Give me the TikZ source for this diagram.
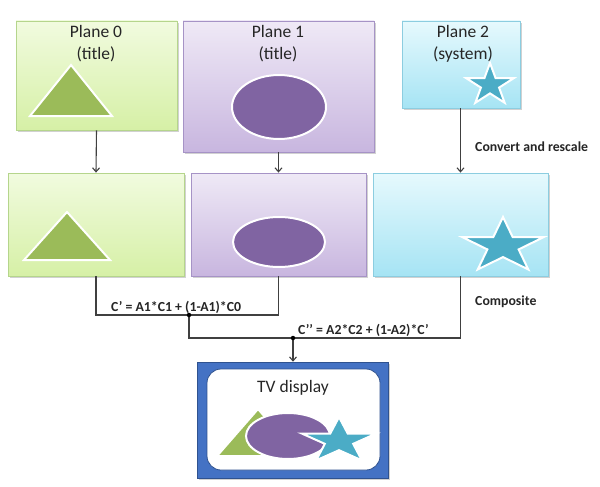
\documentclass[tikz,border=0pt]{standalone}
\usepackage{fontspec}
\setmainfont{Carlito}
\usetikzlibrary{arrows.meta}
\definecolor{gtop}{HTML}{F1FBDF}
\definecolor{gbot}{HTML}{D6F0A6}
\definecolor{gline}{HTML}{B5D58C}
\definecolor{gfill}{HTML}{9BBB59}
\definecolor{ptop}{HTML}{EFE9F6}
\definecolor{pbot}{HTML}{C8B6DF}
\definecolor{pline}{HTML}{A693C6}
\definecolor{pfill}{HTML}{8064A2}
\definecolor{ctop}{HTML}{E6F9FD}
\definecolor{cbot}{HTML}{A6E4F4}
\definecolor{cline}{HTML}{8CCDE0}
\definecolor{cfill}{HTML}{4BACC6}
\definecolor{tvblue}{HTML}{4472C4}
\definecolor{tvline}{HTML}{2F528F}
\definecolor{conn}{HTML}{404040}
\tikzset{
  planebox/.style={rectangle, draw=#1line, line width=0.8pt, top color=#1top, bottom color=#1bot, inner sep=0pt},
  shadowbox/.style={fill=black, opacity=0.18},
  title/.style={font=\fontsize{17.5}{22}\selectfont, text=black!85, inner sep=0pt, align=center},
  formula/.style={font=\bfseries\fontsize{13.8}{16}\selectfont, text=black!85, inner sep=0pt},
  shapeline/.style={draw=white, line width=2pt, line join=miter},
  connector/.style={draw=conn, line width=1.1pt},
  arr/.style={connector, -{Straight Barb[length=4pt,width=7pt]}},
  junction/.style={circle, fill=black, inner sep=0pt, minimum size=4.5pt},
}
\newcommand{\officestar}[5]{% style, cx, cy, rx, ry
  \path[#1] plot[samples at={0,...,9}] ({#2+#4*(0.691+0.309*cos(180*\x))*cos(270+36*\x)},{#3+#5*(0.691+0.309*cos(180*\x))*sin(270+36*\x)}) -- cycle;}
\begin{document}
\begin{tikzpicture}[x=1pt,y=-1pt]
\fill[white] (0,0) rectangle (600,487);
\useasboundingbox (0,0) rectangle (600,487);
% shadows
\fill[shadowbox] (18,23) rectangle (179,132);
\fill[shadowbox] (185,23) rectangle (376,154);
\fill[shadowbox] (404,23) rectangle (522,110);
\fill[shadowbox] (10,175) rectangle (186,278);
\fill[shadowbox] (193,175) rectangle (368,278);
\fill[shadowbox] (375,175) rectangle (550,278);
% top row boxes
\node[planebox=g, minimum width=161pt, minimum height=109pt] (p0) at (96.5,75.5) {};
\node[planebox=p, minimum width=191pt, minimum height=131pt] (p1) at (278.5,86.5) {};
\node[planebox=c, minimum width=118pt, minimum height=87pt] (p2) at (461,64.5) {};
\node[title] (p0t) at (96,44) {Plane 0\\(title)};
\node[title] (p1t) at (278,44) {Plane 1\\(title)};
\node[title] (p2t) at (463,44) {Plane 2\\(system)};
\path[shapeline, fill=gfill] (71,65) -- (112,116) -- (30,116) -- cycle;
\path[shapeline, fill=pfill] (279,107) ellipse [x radius=47, y radius=32];
\officestar{shapeline, fill=cfill}{490}{85}{25}{22}
% second row boxes
\node[planebox=g, minimum width=176pt, minimum height=103pt] (q0) at (96,224.5) {};
\node[planebox=p, minimum width=175pt, minimum height=103pt] (q1) at (278.5,224.5) {};
\node[planebox=c, minimum width=175pt, minimum height=103pt] (q2) at (460.5,224.5) {};
\path[shapeline, fill=gfill] (67,212) -- (110,260) -- (24,260) -- cycle;
\path[shapeline, fill=pfill] (279,242) ellipse [x radius=46, y radius=25];
\officestar{shapeline, fill=cfill}{503}{246}{43}{29}
% TV display
\fill[shadowbox] (199,364) rectangle (390,480);
\node[rectangle, draw=tvline, line width=0.6pt, fill=tvblue, minimum width=191pt, minimum height=116pt, inner sep=0pt] (tv) at (292.5,420) {};
\node[rectangle, rounded corners=14pt, draw=tvline, line width=0.8pt, fill=white, minimum width=173pt, minimum height=101pt, inner sep=0pt] (tvin) at (293.5,419.5) {};
\node[title] (tvt) at (293,388) {TV display};
\path[shapeline, fill=gfill] (258,409) -- (299,456) -- (217,456) -- cycle;
\path[shapeline, fill=pfill] (288,436) ellipse [x radius=42, y radius=23];
\officestar{shapeline, fill=cfill}{339}{441}{39}{24}
% connectors
\draw[arr] (p0.south) -- (q0.north);
\draw[arr] (p1.south) -- (q1.north);
\draw[arr] (p2.south -| q2.north) -- (q2.north);
\coordinate (j1) at (189,315);
\coordinate (j2) at (293,338);
\draw[connector] (q0.south) -- (q0.south |- j1) -- (q1.south |- j1) -- (q1.south);
\draw[connector] (j1) -- (j1 |- j2) -- (q2.south |- j2) -- (q2.south);
\draw[arr] (j2) -- (tv.north -| j2);
\node[junction] (dot1) at (j1) {};
\node[junction] (dot2) at (j2) {};
% labels
\node[formula, anchor=west] (f1) at (111,307) {C’ = A1*C1 + (1-A1)*C0};
\node[formula, anchor=west] (f2) at (298,330) {C’’ = A2*C2 + (1-A2)*C’};
\node[formula, anchor=west] (lc) at (475,147) {Convert and rescale};
\node[formula, anchor=west] (lcomp) at (475,302) {Composite};
\end{tikzpicture}
\end{document}
